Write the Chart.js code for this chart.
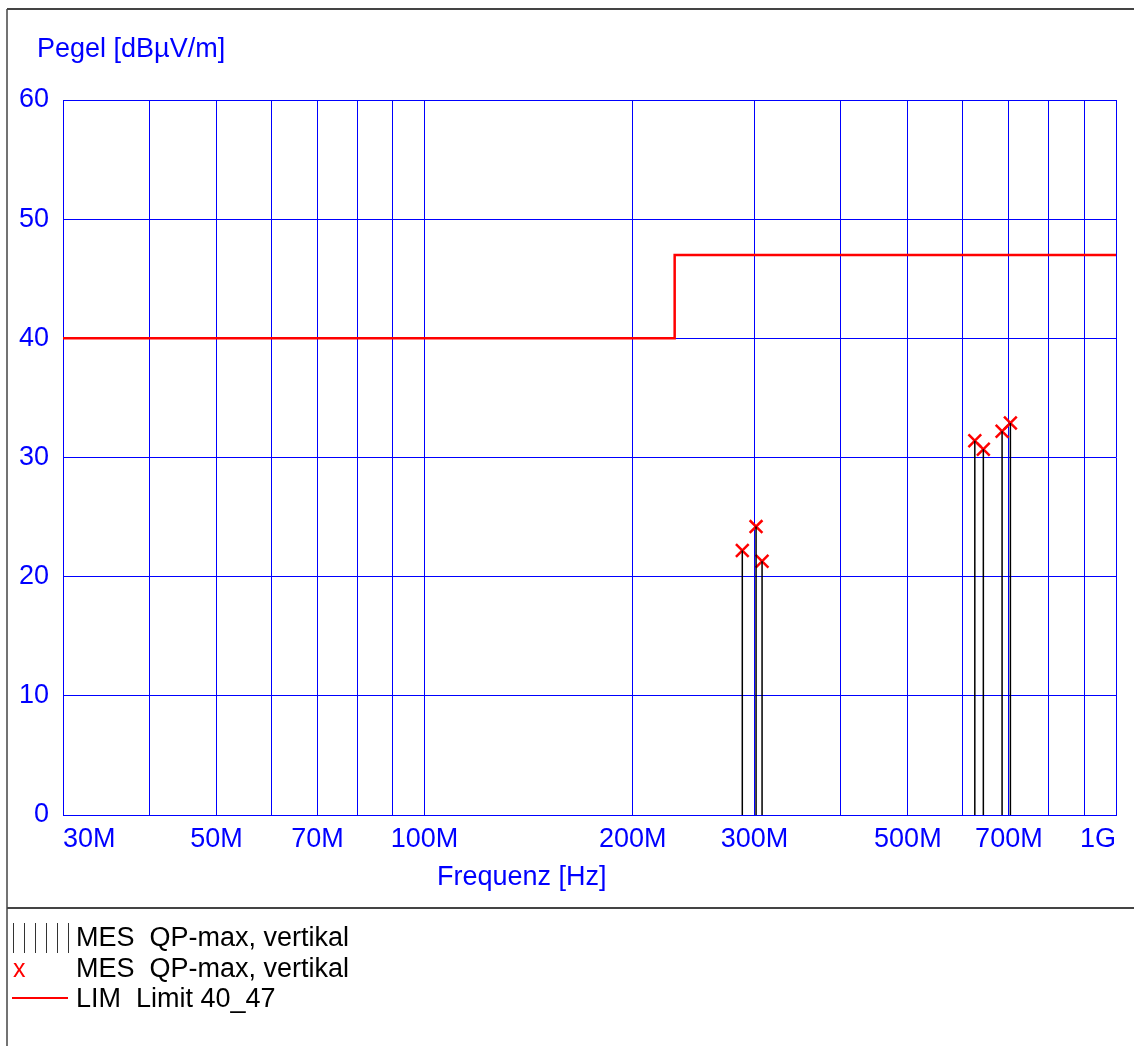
<!DOCTYPE html>
<html>
<head>
<meta charset="utf-8">
<script src="https://cdn.jsdelivr.net/npm/chart.js@4/dist/chart.umd.min.js"></script>
<style>
  body { margin: 0; background: #fff; }
  canvas { display: block; }
</style>
</head>
<body>
<canvas id="myChart" width="1134" height="1046"></canvas>
<script>
// measured peaks (MHz / dBuV/m)
let freqs = [288.1, 301.6, 307.7, 624.9, 642.9, 684.3, 703.5];
let levels = [22.2, 24.2, 21.3, 31.4, 30.7, 32.2, 32.9];

// limit line 40_47
let limitFreqs = [30, 230, 230, 1000];
let limitLevels = [40, 40, 47, 47];

// x grid and tick labels
let gridFreqs = [30, 40, 50, 60, 70, 80, 90, 100, 200, 300, 400, 500, 600, 700, 800, 900, 1000];
let tickLabels = {30: '30M', 50: '50M', 70: '70M', 100: '100M', 200: '200M', 300: '300M', 500: '500M', 700: '700M', 1000: '1G'};

let legendLabels = ['MES  QP-max, vertikal', 'MES  QP-max, vertikal', 'LIM  Limit 40_47'];

const FONT = "'Liberation Sans', Arial, sans-serif";
const BLUE = '#0000ff';

// stems: one segment per peak, separated by gaps
let stems = [];
freqs.forEach((f, i) => {
    stems.push({x: f, y: 0}, {x: f, y: levels[i]}, {x: f, y: null});
});

let markers = freqs.map((f, i) => ({x: f, y: levels[i]}));
let limit = limitFreqs.map((f, i) => ({x: f, y: limitLevels[i]}));

// frame, titles and legend
const decor = {
    id: 'decor',
    afterDraw(chart) {
        const ctx = chart.ctx;
        ctx.save();
        ctx.strokeStyle = '#444';
        ctx.lineWidth = 2;
        ctx.beginPath();
        ctx.moveTo(7, 9); ctx.lineTo(1134, 9);
        ctx.moveTo(7, 908); ctx.lineTo(1134, 908);
        ctx.stroke();
        ctx.lineWidth = 1.5;
        ctx.beginPath();
        ctx.moveTo(7, 9); ctx.lineTo(7, 1046);
        ctx.stroke();

        ctx.fillStyle = BLUE;
        ctx.font = '27px ' + FONT;
        ctx.textBaseline = 'alphabetic';
        ctx.textAlign = 'left';
        ctx.fillText('Pegel [dBµV/m]', 37, 57);
        ctx.fillText('Frequenz [Hz]', 437, 885);

        // legend
        ctx.fillStyle = '#000';
        let baselines = [946, 977, 1007];
        legendLabels.forEach((t, i) => ctx.fillText(t, 76, baselines[i]));

        ctx.strokeStyle = '#333';
        ctx.lineWidth = 1;
        ctx.beginPath();
        for (let k = 0; k < 6; k++) {
            let x = 13.5 + k * 11;
            ctx.moveTo(x, 923); ctx.lineTo(x, 953);
        }
        ctx.stroke();

        ctx.fillStyle = '#ff0000';
        ctx.font = '25px ' + FONT;
        ctx.fillText('x', 13, 977);

        ctx.strokeStyle = '#ff0000';
        ctx.lineWidth = 2;
        ctx.beginPath();
        ctx.moveTo(12, 998); ctx.lineTo(68, 998);
        ctx.stroke();
        ctx.restore();
    }
};

let myChart = document.getElementById('myChart').getContext('2d');

let chart = new Chart(myChart, {
    type: 'scatter',
    data: {
        datasets: [
            {
                data: stems,
                showLine: true,
                spanGaps: false,
                borderColor: '#000',
                borderWidth: 1.5,
                pointRadius: 0
            },
            {
                data: limit,
                showLine: true,
                borderColor: '#ff0000',
                borderWidth: 2.5,
                pointRadius: 0
            },
            {
                data: markers,
                showLine: false,
                pointStyle: 'crossRot',
                pointRadius: 9,
                borderColor: '#ff0000',
                borderWidth: 2.5
            }
        ]
    },
    plugins: [decor],
    options: {
        responsive: false,
        animation: false,
        layout: {padding: {left: 0, top: 100, right: 18, bottom: 0}},
        plugins: {
            legend: {display: false},
            tooltip: {enabled: false}
        },
        scales: {
            x: {
                type: 'logarithmic',
                min: 30,
                max: 1000,
                afterBuildTicks: scale => {
                    scale.ticks = gridFreqs.map(v => ({value: v}));
                },
                afterFit: scale => { scale.height = 231; },
                grid: {color: BLUE, lineWidth: 1, drawTicks: false},
                border: {color: BLUE, width: 1},
                ticks: {
                    autoSkip: false,
                    maxRotation: 0,
                    align: 'inner',
                    padding: 8,
                    color: BLUE,
                    font: {family: FONT, size: 27},
                    callback: v => tickLabels[v] || ''
                }
            },
            y: {
                min: 0,
                max: 60,
                afterFit: scale => { scale.width = 63; },
                grid: {color: BLUE, lineWidth: 1, drawTicks: false},
                border: {color: BLUE, width: 1},
                ticks: {
                    stepSize: 10,
                    padding: 14,
                    color: BLUE,
                    font: {family: FONT, size: 27}
                }
            }
        }
    }
});
</script>
</body>
</html>
